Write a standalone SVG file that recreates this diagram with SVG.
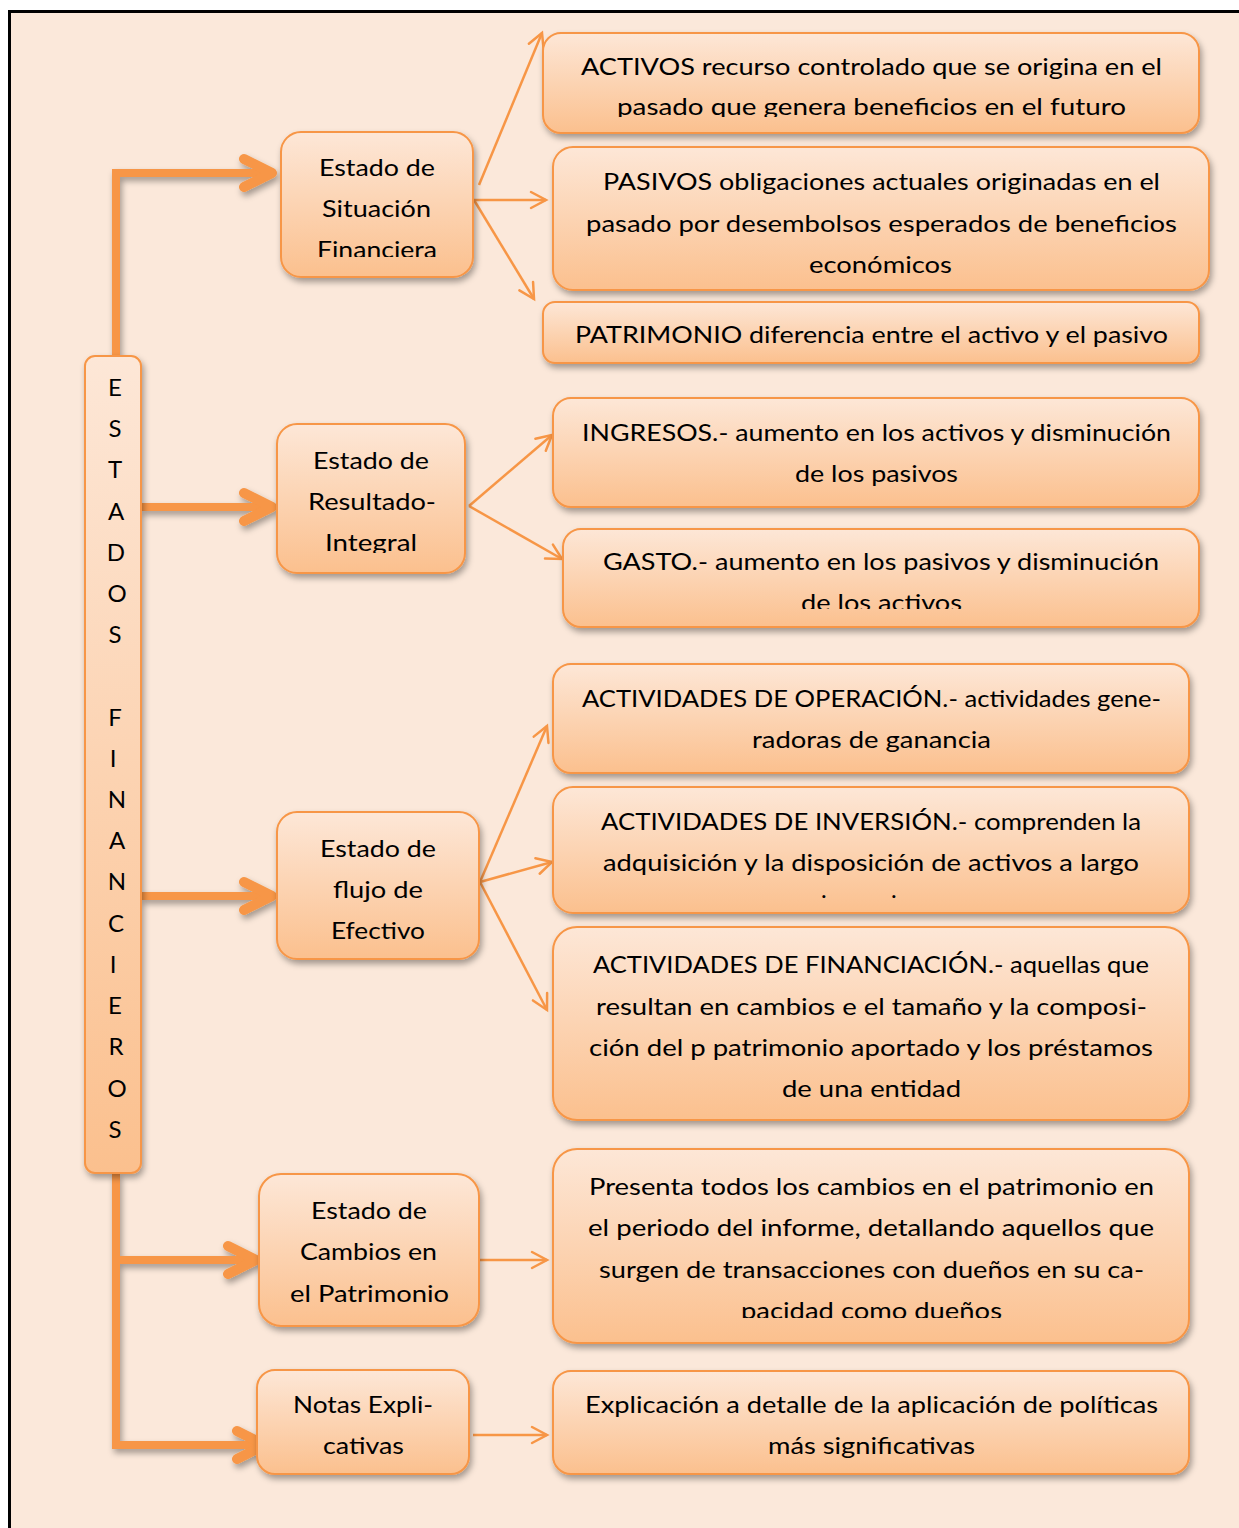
<svg xmlns="http://www.w3.org/2000/svg" width="1239" height="1528" viewBox="0 0 1239 1528">
<style>
.box{stroke:#F79646;stroke-width:2;fill:url(#g)}
.t{font-family:Lato,"Noto Sans","Liberation Sans",sans-serif;font-size:24px;fill:#000}
.thick{fill:none;stroke:#F79646;stroke-width:8}
.thin{fill:none;stroke:#F79646;stroke-width:2.5}
</style>
<defs>
<linearGradient id="g" x1="0" y1="0" x2="0" y2="1">
<stop offset="0" stop-color="#FDE7D7"/>
<stop offset="1" stop-color="#FBC08E"/>
</linearGradient>
<filter id="sh" x="-10%" y="-10%" width="130%" height="140%">
<feDropShadow dx="2" dy="4" stdDeviation="3" flood-color="#000" flood-opacity="0.35"/>
</filter>
<marker id="ah" markerUnits="userSpaceOnUse" markerWidth="60" markerHeight="60" viewBox="-40 -30 60 60" refX="0" refY="0" orient="auto" overflow="visible">
<path d="M-28,-14 L0,0 L-28,14" fill="none" stroke="#F79646" stroke-width="10" stroke-linecap="round" stroke-linejoin="round"/>
</marker>
<marker id="as" markerUnits="userSpaceOnUse" markerWidth="30" markerHeight="30" viewBox="-20 -15 30 30" refX="0" refY="0" orient="auto" overflow="visible">
<path d="M-15,-8 L0,0 L-15,8" fill="none" stroke="#F79646" stroke-width="2.5" stroke-linecap="round"/>
</marker>
<clipPath id="cA"><rect x="540" y="30" width="670" height="87"/></clipPath>
<clipPath id="cB"><rect x="550" y="144" width="670" height="130"/></clipPath>
<clipPath id="cE"><rect x="560" y="526" width="650" height="83"/></clipPath>
<clipPath id="cG"><rect x="550" y="784" width="650" height="115"/></clipPath>
<clipPath id="cI"><rect x="550" y="1146" width="650" height="172"/></clipPath>
<clipPath id="c1"><rect x="278" y="129" width="200" height="128"/></clipPath>
<clipPath id="c2"><rect x="274" y="421" width="200" height="132"/></clipPath>
</defs>
<rect x="0" y="0" width="1239" height="1528" fill="#fff"/>
<rect x="9.5" y="11.5" width="1240" height="1530" fill="#FBE8DA" stroke="#000" stroke-width="3"/>

<g id="connectors">
<g filter="url(#sh)">
<path class="thick" d="M116,356 V173 H272" marker-end="url(#ah)"/>
<path class="thick" d="M141,507 H272" marker-end="url(#ah)"/>
<path class="thick" d="M141,896 H272" marker-end="url(#ah)"/>
<path class="thick" d="M116,1173 V1445 H265" marker-end="url(#ah)"/>
<path class="thick" d="M116,1260 H256" marker-end="url(#ah)"/>
</g>
<path class="thin" d="M479,185 L542,33" marker-end="url(#as)"/>
<path class="thin" d="M474,200 L546,200" marker-end="url(#as)"/>
<path class="thin" d="M474,200 L534,299" marker-end="url(#as)"/>
<path class="thin" d="M469,506 L552,435" marker-end="url(#as)"/>
<path class="thin" d="M469,506 L562,559" marker-end="url(#as)"/>
<path class="thin" d="M480,882 L547,726" marker-end="url(#as)"/>
<path class="thin" d="M480,882 L552,862" marker-end="url(#as)"/>
<path class="thin" d="M480,882 L547,1010" marker-end="url(#as)"/>
<path class="thin" d="M473,1260 L547,1260" marker-end="url(#as)"/>
<path class="thin" d="M473,1435 L547,1435" marker-end="url(#as)"/>
</g>

<g id="estados">
<rect class="box" x="85" y="356" width="56" height="817" rx="10" filter="url(#sh)"/>
<g class="t" text-anchor="middle">
<text x="115" y="396">E</text><text x="115" y="437">S</text><text x="115" y="478">T</text><text x="116" y="520">A</text><text x="116" y="561">D</text><text x="117" y="602">O</text><text x="115" y="643">S</text>
<text x="115" y="726">F</text><text x="113" y="767">I</text><text x="117" y="808">N</text><text x="117" y="849">A</text><text x="117" y="890">N</text><text x="116" y="932">C</text><text x="113" y="973">I</text><text x="115" y="1014">E</text><text x="116" y="1055">R</text><text x="117" y="1097">O</text><text x="115" y="1138">S</text>
</g>
</g>

<g id="n-situacion">
<rect class="box" x="281" y="132" width="192" height="145" rx="20" filter="url(#sh)"/>
<g class="t" clip-path="url(#c1)">
<text x="319" y="176" textLength="116" lengthAdjust="spacingAndGlyphs">Estado de</text>
<text x="322" y="217" textLength="109" lengthAdjust="spacingAndGlyphs">Situación</text>
<text x="317" y="258" textLength="120" lengthAdjust="spacingAndGlyphs">Financiera</text>
</g>
</g>
<g id="n-resultado">
<rect class="box" x="277" y="424" width="188" height="149" rx="20" filter="url(#sh)"/>
<g class="t" clip-path="url(#c2)">
<text x="313" y="469" textLength="116" lengthAdjust="spacingAndGlyphs">Estado de</text>
<text x="308" y="510" textLength="128" lengthAdjust="spacingAndGlyphs">Resultado-</text>
<text x="325" y="551" textLength="92" lengthAdjust="spacingAndGlyphs">Integral</text>
</g>
</g>
<g id="n-flujo">
<rect class="box" x="277" y="812" width="202" height="147" rx="20" filter="url(#sh)"/>
<g class="t">
<text x="320" y="857" textLength="116" lengthAdjust="spacingAndGlyphs">Estado de</text>
<text x="333" y="898" textLength="90" lengthAdjust="spacingAndGlyphs">flujo de</text>
<text x="331" y="939" textLength="94" lengthAdjust="spacingAndGlyphs">Efectivo</text>
</g>
</g>
<g id="n-cambios">
<rect class="box" x="259" y="1174" width="220" height="152" rx="22" filter="url(#sh)"/>
<g class="t">
<text x="311" y="1219" textLength="116" lengthAdjust="spacingAndGlyphs">Estado de</text>
<text x="300" y="1260" textLength="137" lengthAdjust="spacingAndGlyphs">Cambios en</text>
<text x="290" y="1302" textLength="159" lengthAdjust="spacingAndGlyphs">el Patrimonio</text>
</g>
</g>
<g id="n-notas">
<rect class="box" x="257" y="1370" width="212" height="104" rx="18" filter="url(#sh)"/>
<g class="t">
<text x="293" y="1413" textLength="140" lengthAdjust="spacingAndGlyphs">Notas Expli-</text>
<text x="323" y="1454" textLength="81" lengthAdjust="spacingAndGlyphs">cativas</text>
</g>
</g>

<g id="r-activos">
<rect class="box" x="543" y="33" width="656" height="100" rx="18" filter="url(#sh)"/>
<g class="t" clip-path="url(#cA)" xml:space="preserve">
<text x="581" y="75" textLength="581" lengthAdjust="spacingAndGlyphs">ACTIVOS recurso controlado que se  origina en el</text>
<text x="617" y="115" textLength="509" lengthAdjust="spacingAndGlyphs">pasado que  genera beneficios en el futuro</text>
</g>
</g>
<g id="r-pasivos">
<rect class="box" x="553" y="147" width="656" height="143" rx="20" filter="url(#sh)"/>
<g class="t" clip-path="url(#cB)">
<text x="603" y="190" textLength="557" lengthAdjust="spacingAndGlyphs">PASIVOS obligaciones actuales originadas en el</text>
<text x="586" y="232" textLength="591" lengthAdjust="spacingAndGlyphs">pasado por desembolsos esperados de beneficios</text>
<text x="809" y="273" textLength="143" lengthAdjust="spacingAndGlyphs">económicos</text>
</g>
</g>
<g id="r-patrimonio">
<rect class="box" x="543" y="302" width="656" height="61" rx="12" filter="url(#sh)"/>
<text class="t" x="575" y="343" textLength="593" lengthAdjust="spacingAndGlyphs">PATRIMONIO diferencia entre el activo y el pasivo</text>
</g>
<g id="r-ingresos">
<rect class="box" x="553" y="398" width="646" height="109" rx="18" filter="url(#sh)"/>
<g class="t">
<text x="582" y="441" textLength="589" lengthAdjust="spacingAndGlyphs">INGRESOS.- aumento en los activos y disminución</text>
<text x="795" y="482" textLength="163" lengthAdjust="spacingAndGlyphs">de los pasivos</text>
</g>
</g>
<g id="r-gasto">
<rect class="box" x="563" y="529" width="636" height="98" rx="18" filter="url(#sh)"/>
<g class="t" clip-path="url(#cE)">
<text x="603" y="570" textLength="556" lengthAdjust="spacingAndGlyphs">GASTO.- aumento en los pasivos y disminución</text>
<text x="801" y="611" textLength="161" lengthAdjust="spacingAndGlyphs">de los activos</text>
</g>
</g>
<g id="r-operacion">
<rect class="box" x="553" y="664" width="636" height="109" rx="18" filter="url(#sh)"/>
<g class="t">
<text x="582" y="707" textLength="579" lengthAdjust="spacingAndGlyphs">ACTIVIDADES DE OPERACIÓN.- actividades gene-</text>
<text x="752" y="748" textLength="239" lengthAdjust="spacingAndGlyphs">radoras de ganancia</text>
</g>
</g>
<g id="r-inversion">
<rect class="box" x="553" y="787" width="636" height="126" rx="20" filter="url(#sh)"/>
<g class="t" clip-path="url(#cG)">
<text x="601" y="830" textLength="540" lengthAdjust="spacingAndGlyphs">ACTIVIDADES DE INVERSIÓN.- comprenden la</text>
<text x="603" y="871" textLength="536" lengthAdjust="spacingAndGlyphs">adquisición y la disposición de activos a largo</text>
<text x="821" y="898">.</text><text x="891" y="898">.</text>
</g>
</g>
<g id="r-financiacion">
<rect class="box" x="553" y="927" width="636" height="193" rx="24" filter="url(#sh)"/>
<g class="t">
<text x="593" y="973" textLength="556" lengthAdjust="spacingAndGlyphs">ACTIVIDADES DE FINANCIACIÓN.- aquellas que</text>
<text x="596" y="1015" textLength="551" lengthAdjust="spacingAndGlyphs">resultan en cambios e el tamaño y la composi-</text>
<text x="589" y="1056" textLength="564" lengthAdjust="spacingAndGlyphs">ción del p patrimonio aportado y los préstamos</text>
<text x="782" y="1097" textLength="179" lengthAdjust="spacingAndGlyphs">de una entidad</text>
</g>
</g>
<g id="r-presenta">
<rect class="box" x="553" y="1149" width="636" height="194" rx="24" filter="url(#sh)"/>
<g class="t" clip-path="url(#cI)">
<text x="589" y="1195" textLength="565" lengthAdjust="spacingAndGlyphs">Presenta todos los cambios en el patrimonio en</text>
<text x="588" y="1236" textLength="566" lengthAdjust="spacingAndGlyphs">el periodo del informe, detallando aquellos que</text>
<text x="599" y="1278" textLength="545" lengthAdjust="spacingAndGlyphs">surgen de transacciones con dueños en su ca-</text>
<text x="741" y="1319" textLength="261" lengthAdjust="spacingAndGlyphs">pacidad como dueños</text>
</g>
</g>
<g id="r-explicacion">
<rect class="box" x="553" y="1371" width="636" height="103" rx="18" filter="url(#sh)"/>
<g class="t">
<text x="585" y="1413" textLength="573" lengthAdjust="spacingAndGlyphs">Explicación a detalle de la aplicación de políticas</text>
<text x="768" y="1454" textLength="207" lengthAdjust="spacingAndGlyphs">más significativas</text>
</g>
</g>
</svg>
